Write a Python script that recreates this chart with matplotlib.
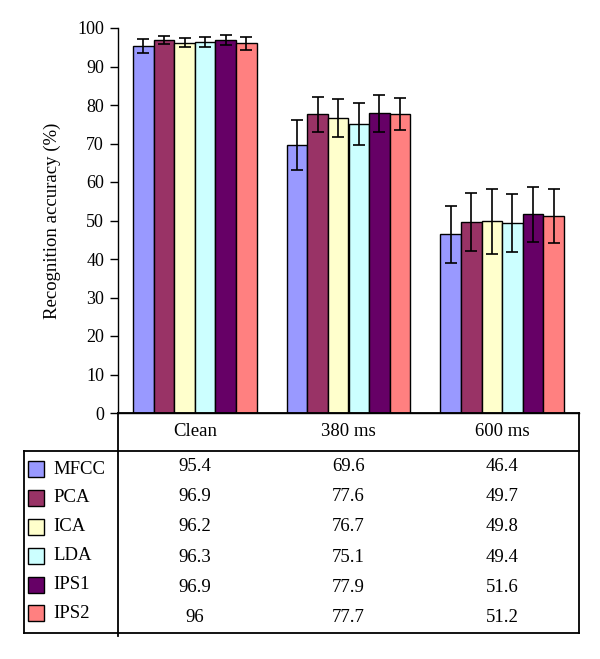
import matplotlib
matplotlib.use("Agg")
import matplotlib.pyplot as plt
import numpy as np

plt.rc('font', family='Liberation Serif')

categories = ['Clean', '380 ms', '600 ms']
methods = ['MFCC', 'PCA', 'ICA', 'LDA', 'IPS1', 'IPS2']
colors = ['#9999FF', '#993366', '#FFFFCC', '#CCFFFF', '#660066', '#FF8080']

accuracy = {
    'MFCC': [95.4, 69.6, 46.4],
    'PCA': [96.9, 77.6, 49.7],
    'ICA': [96.2, 76.7, 49.8],
    'LDA': [96.3, 75.1, 49.4],
    'IPS1': [96.9, 77.9, 51.6],
    'IPS2': [96, 77.7, 51.2],
}
# error bar half-lengths
errors = {
    'MFCC': [1.8, 6.4, 7.4],
    'PCA': [1.1, 4.5, 7.5],
    'ICA': [1.1, 4.9, 8.5],
    'LDA': [1.3, 5.5, 7.6],
    'IPS1': [1.2, 4.8, 7.1],
    'IPS2': [1.6, 4.2, 7.1],
}
table_text = {
    'MFCC': ['95.4', '69.6', '46.4'],
    'PCA': ['96.9', '77.6', '49.7'],
    'ICA': ['96.2', '76.7', '49.8'],
    'LDA': ['96.3', '75.1', '49.4'],
    'IPS1': ['96.9', '77.9', '51.6'],
    'IPS2': ['96', '77.7', '51.2'],
}

W, H = 600, 659
fig = plt.figure(figsize=(W / 100, H / 100), dpi=100)
fig.set_facecolor('white')

# pixel helpers
def fx(px):
    return px / W

def fy(py):
    return 1 - py / H

ax_left, ax_right, ax_top, ax_bottom = 118, 579, 28, 413
ax = fig.add_axes([fx(ax_left), fy(ax_bottom), fx(ax_right - ax_left), (ax_bottom - ax_top) / H])

x = np.arange(len(categories))
bw = 0.134
for i, m in enumerate(methods):
    pos = x + (i - 2.5) * bw
    ax.bar(pos, accuracy[m], bw, color=colors[i], edgecolor='black', linewidth=1)
    ax.errorbar(pos, accuracy[m], yerr=errors[m], fmt='none', ecolor='black',
                elinewidth=1.2, capsize=4, capthick=1.2)

ax.set_xlim(-0.5, len(categories) - 0.5)
ax.set_ylim(0, 100)
ax.set_yticks(np.arange(0, 101, 10))
ax.tick_params(axis='y', direction='out', length=6, labelsize=13, width=1, pad=4)
ax.set_xticks([])
ax.spines['top'].set_visible(False)
ax.spines['right'].set_visible(False)
ax.spines['left'].set_linewidth(1)
ax.spines['bottom'].set_linewidth(1)
ax.set_ylabel('Recognition accuracy (%)', fontsize=13.5, labelpad=12)

# table below the chart
tab_left, header_bottom, tab_bottom = 24, 451, 633
lw = 1.3
lines = [
    ((tab_left, ax_right), (header_bottom, header_bottom)),
    ((tab_left, ax_right), (tab_bottom, tab_bottom)),
    ((tab_left, tab_left), (header_bottom, tab_bottom)),
    ((ax_left, ax_left), (ax_bottom, tab_bottom + 3)),
    ((ax_right, ax_right), (ax_bottom, tab_bottom)),
    ((ax_left, ax_right), (ax_bottom, ax_bottom)),
]
for xs, ys in lines:
    fig.add_artist(plt.Line2D([fx(xs[0]), fx(xs[1])], [fy(ys[0]), fy(ys[1])],
                              color='black', linewidth=lw))

col_w = (ax_right - ax_left) / len(categories)
for j, c in enumerate(categories):
    cx = ax_left + col_w * (j + 0.5)
    fig.text(fx(cx), fy((ax_bottom + header_bottom) / 2), c, ha='center', va='center', fontsize=13.5)

row_h = (tab_bottom - header_bottom) / len(methods)
for i, m in enumerate(methods):
    cy = header_bottom + row_h * (i + 0.5)
    for j in range(len(categories)):
        cx = ax_left + col_w * (j + 0.5)
        fig.text(fx(cx), fy(cy), table_text[m][j], ha='center', va='center', fontsize=13.5)
    ly = cy + 3 - i * 1.5
    fig.add_artist(plt.Rectangle((fx(28), fy(ly + 8)), fx(16), 16 / H,
                                 facecolor=colors[i], edgecolor='black', linewidth=1))
    fig.text(fx(53), fy(ly), m, ha='left', va='center', fontsize=13.5)

fig.savefig('out.png', dpi=100)
